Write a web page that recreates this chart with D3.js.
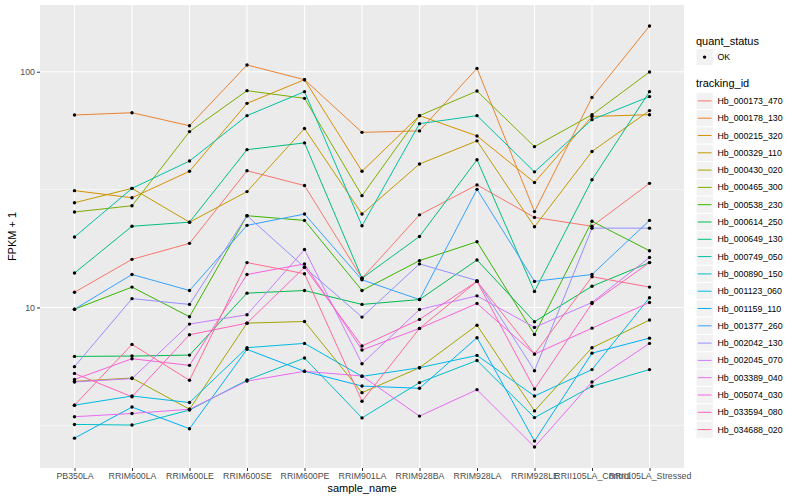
<!DOCTYPE html>
<html>
<head>
<meta charset="utf-8">
<script src="https://cdn.jsdelivr.net/npm/d3@7"></script>
<style>
  body { margin: 0; background: #ffffff; }
  text { font-family: "Liberation Sans", Arial, sans-serif; }
</style>
</head>
<body>
<div id="chart"></div>
<script>
// categories
var samples = ["PB350LA", "RRIM600LA", "RRIM600LE", "RRIM600SE", "RRIM600PE", "RRIM901LA",
  "RRIM928BA", "RRIM928LA", "RRIM928LE", "RRII105LA_Control", "RRII105LA_Stressed"];

var trackingIds = ["Hb_000173_470", "Hb_000178_130", "Hb_000215_320", "Hb_000329_110", "Hb_000430_020",
  "Hb_000465_300", "Hb_000538_230", "Hb_000614_250", "Hb_000649_130", "Hb_000749_050",
  "Hb_000890_150", "Hb_001123_060", "Hb_001159_110", "Hb_001377_260", "Hb_002042_130",
  "Hb_002045_070", "Hb_003389_040", "Hb_005074_030", "Hb_033594_080", "Hb_034688_020"];

var quantStatus = ["OK"];

// FPKM + 1, one array per tracking_id, in sample order
var hb000173_470 = [11.6, 16.0, 18.7, 38.0, 32.9, 13.3, 24.7, 33.1, 24.1, 22.1, 33.6];
var hb000178_130 = [65.5, 67.0, 59.0, 106.8, 92.5, 55.3, 56.1, 103.3, 25.5, 77.8, 156.2];
var hb000215_320 = [31.3, 29.2, 37.8, 73.4, 92.5, 37.8, 65.1, 53.4, 33.9, 64.6, 65.7];
var hb000329_110 = [27.8, 32.0, 23.0, 31.0, 57.4, 24.9, 40.6, 50.9, 22.0, 45.9, 68.4];
var hb000430_020 = [4.86, 5.02, 3.70, 8.58, 8.72, 4.35, 5.55, 8.41, 3.64, 6.75, 8.84];
var hb000465_300 = [25.4, 27.0, 55.7, 83.1, 77.1, 29.8, 65.1, 82.8, 48.1, 65.7, 99.7];
var hb000538_230 = [9.83, 12.2, 9.13, 24.5, 23.4, 11.8, 15.8, 19.0, 7.68, 23.2, 17.4];
var hb000614_250 = [6.20, 6.22, 6.28, 11.5, 11.8, 10.3, 10.8, 15.9, 8.70, 12.3, 15.5];
var hb000649_130 = [14.0, 22.1, 23.0, 46.7, 49.9, 13.3, 20.0, 42.3, 11.7, 34.8, 82.3];
var hb000749_050 = [19.9, 32.0, 41.8, 65.1, 82.3, 22.2, 60.2, 65.1, 37.6, 62.6, 78.4];
var hb000890_150 = [3.19, 3.17, 3.67, 4.92, 6.10, 3.40, 4.80, 5.96, 3.41, 4.63, 5.45];
var hb001123_060 = [3.85, 4.21, 3.95, 6.75, 7.04, 5.10, 5.55, 6.26, 4.21, 5.45, 11.0];
var hb001159_110 = [2.79, 3.78, 3.06, 6.64, 5.36, 4.64, 4.54, 7.44, 2.71, 6.40, 7.41];
var hb001377_260 = [9.83, 13.8, 11.8, 22.3, 24.9, 13.1, 10.8, 31.7, 12.9, 13.8, 23.4];
var hb002042_130 = [5.61, 10.9, 10.3, 24.5, 14.8, 9.10, 15.3, 13.0, 5.39, 21.7, 21.7];
var hb002045_070 = [4.83, 4.99, 8.50, 9.31, 17.6, 5.77, 9.80, 11.2, 8.23, 10.5, 16.3];
var hb003389_040 = [3.44, 3.55, 3.70, 4.87, 5.36, 5.12, 3.46, 4.48, 2.56, 4.83, 7.04];
var hb005074_030 = [4.95, 6.06, 5.68, 13.8, 15.3, 6.60, 8.15, 10.4, 6.34, 8.17, 10.5];
var hb033594_080 = [5.25, 4.18, 7.66, 8.58, 14.8, 6.86, 8.90, 12.9, 4.51, 10.4, 15.5];
var hb034688_020 = [3.85, 6.97, 4.91, 15.5, 13.9, 4.00, 8.15, 12.9, 6.34, 13.5, 12.2];

var seriesValues = [hb000173_470, hb000178_130, hb000215_320, hb000329_110, hb000430_020,
  hb000465_300, hb000538_230, hb000614_250, hb000649_130, hb000749_050,
  hb000890_150, hb001123_060, hb001159_110, hb001377_260, hb002042_130,
  hb002045_070, hb003389_040, hb005074_030, hb033594_080, hb034688_020];

var yTicks = [10, 100];
var yMinorTicks = [Math.sqrt(10), Math.sqrt(1000)];

// ggplot default hue palette for 20 levels
var palette = ["#F8766D", "#EA8331", "#D89000", "#C09B00", "#A3A500", "#7CAE00", "#39B600",
  "#00BB4E", "#00BF7D", "#00C1A3", "#00BFC4", "#00BAE0", "#00B0F6", "#35A2FF", "#9590FF",
  "#C77CFF", "#E76BF3", "#FA62DB", "#FF62BC", "#FF6C91"];

var series = trackingIds.map(function(id, i) {
  return {
    id: id,
    points: samples.map(function(s, j) { return {sample: s, value: seriesValues[i][j]}; })
  };
});

var svgWidth = 800;
var svgHeight = 500;

var margin = {top: 5, right: 116, bottom: 32, left: 40};
var width = svgWidth - margin.left - margin.right;
var height = svgHeight - margin.top - margin.bottom;

var svg = d3.select("#chart")
  .append("svg")
  .attr("width", svgWidth)
  .attr("height", svgHeight);

var g = svg.append("g")
  .attr("transform", `translate(${margin.left}, ${margin.top})`);

var xScale = d3.scalePoint()
  .domain(samples)
  .range([0, width])
  .padding(0.6);

// log scale, expanded 5% each side like ggplot
var logExt = d3.extent(d3.merge(seriesValues)).map(Math.log10);
var pad = (logExt[1] - logExt[0]) * 0.05;
var yScale = d3.scaleLog()
  .domain([Math.pow(10, logExt[0] - pad), Math.pow(10, logExt[1] + pad)])
  .range([height, 0]);

var color = d3.scaleOrdinal()
  .domain(trackingIds)
  .range(palette);

// panel
g.append("rect")
  .attr("width", width)
  .attr("height", height)
  .attr("fill", "#EBEBEB");

g.selectAll("line.minor")
  .data(yMinorTicks)
  .enter()
  .append("line")
  .attr("class", "minor")
  .attr("x1", 0)
  .attr("x2", width)
  .attr("y1", d => yScale(d))
  .attr("y2", d => yScale(d))
  .attr("stroke", "#ffffff")
  .attr("stroke-width", 0.55);

g.selectAll("line.hmajor")
  .data(yTicks)
  .enter()
  .append("line")
  .attr("class", "hmajor")
  .attr("x1", 0)
  .attr("x2", width)
  .attr("y1", d => yScale(d))
  .attr("y2", d => yScale(d))
  .attr("stroke", "#ffffff")
  .attr("stroke-width", 1.1);

g.selectAll("line.vmajor")
  .data(samples)
  .enter()
  .append("line")
  .attr("class", "vmajor")
  .attr("x1", d => xScale(d))
  .attr("x2", d => xScale(d))
  .attr("y1", 0)
  .attr("y2", height)
  .attr("stroke", "#ffffff")
  .attr("stroke-width", 1.1);

var line = d3.line()
  .x(d => xScale(d.sample))
  .y(d => yScale(d.value));

g.selectAll("path.series")
  .data(series)
  .enter()
  .append("path")
  .attr("class", "series")
  .attr("fill", "none")
  .attr("stroke", d => color(d.id))
  .attr("stroke-width", 1)
  .attr("d", d => line(d.points));

g.selectAll("g.dots")
  .data(series)
  .enter()
  .append("g")
  .attr("class", "dots")
  .selectAll("circle")
  .data(d => d.points)
  .enter()
  .append("circle")
  .attr("cx", d => xScale(d.sample))
  .attr("cy", d => yScale(d.value))
  .attr("r", 1.7)
  .attr("fill", "#000000");

// axes
var yAxis = d3.axisLeft(yScale)
  .tickValues(yTicks)
  .tickFormat(d3.format("d"))
  .tickSize(3)
  .tickPadding(2);

var xAxis = d3.axisBottom(xScale)
  .tickSize(3)
  .tickPadding(2);

var yAxisG = g.append("g").call(yAxis);
var xAxisG = g.append("g")
  .attr("transform", `translate(0,${height})`)
  .call(xAxis);

[xAxisG, yAxisG].forEach(function(ax) {
  ax.select(".domain").remove();
  ax.selectAll(".tick line").attr("stroke", "#333333");
  ax.selectAll(".tick text")
    .attr("fill", "#4D4D4D")
    .style("font-size", "8.8px")
    .style("font-family", "'Liberation Sans', Arial, sans-serif");
});

svg.append("text")
  .attr("x", margin.left + width / 2)
  .attr("y", 492)
  .attr("text-anchor", "middle")
  .attr("fill", "#000000")
  .style("font-size", "11px")
  .text("sample_name");

svg.append("text")
  .attr("transform", `translate(16, ${margin.top + height / 2}) rotate(-90)`)
  .attr("text-anchor", "middle")
  .attr("fill", "#000000")
  .style("font-size", "11px")
  .text("FPKM + 1");

// legend
var legend = svg.append("g")
  .attr("transform", "translate(696, 0)");

legend.append("text")
  .attr("x", 0)
  .attr("y", 45)
  .style("font-size", "11px")
  .text("quant_status");

var okKey = legend.selectAll("g.ok")
  .data(quantStatus)
  .enter()
  .append("g")
  .attr("class", "ok")
  .attr("transform", (d, i) => `translate(0, ${48.5 + i * 17.3})`);

okKey.append("rect")
  .attr("width", 17.3)
  .attr("height", 17.3)
  .attr("fill", "#F2F2F2")
  .attr("stroke", "#ffffff");

okKey.append("circle")
  .attr("cx", 8.6)
  .attr("cy", 8.6)
  .attr("r", 1.7)
  .attr("fill", "#000000");

okKey.append("text")
  .attr("x", 21.5)
  .attr("y", 8.6)
  .attr("dy", "0.35em")
  .style("font-size", "8.8px")
  .text(d => d);

legend.append("text")
  .attr("x", 0)
  .attr("y", 87)
  .style("font-size", "11px")
  .text("tracking_id");

var keys = legend.selectAll("g.key")
  .data(trackingIds)
  .enter()
  .append("g")
  .attr("class", "key")
  .attr("transform", (d, i) => `translate(0, ${92.3 + i * 17.3})`);

keys.append("rect")
  .attr("width", 17.3)
  .attr("height", 17.3)
  .attr("fill", "#F2F2F2")
  .attr("stroke", "#ffffff");

keys.append("line")
  .attr("x1", 1.7)
  .attr("x2", 15.6)
  .attr("y1", 8.6)
  .attr("y2", 8.6)
  .attr("stroke", d => color(d))
  .attr("stroke-width", 1);

keys.append("text")
  .attr("x", 21.5)
  .attr("y", 8.6)
  .attr("dy", "0.35em")
  .style("font-size", "8.8px")
  .text(d => d);
</script>
</body>
</html>
